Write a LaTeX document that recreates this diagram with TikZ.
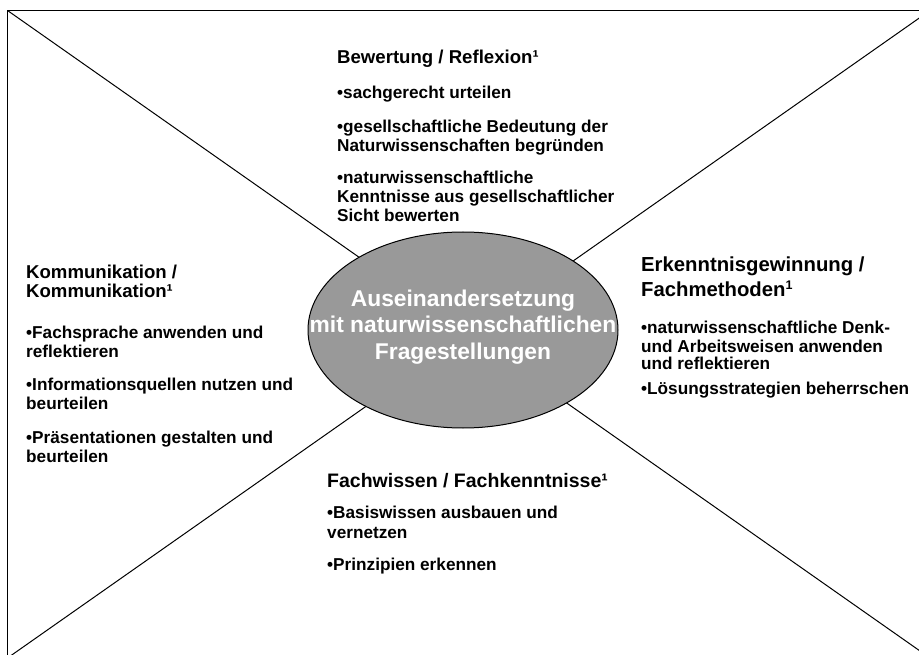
\documentclass[tikz,border=0pt]{standalone}
\usepackage{fontspec}
\setmainfont{Liberation Sans}
\usetikzlibrary{shapes.geometric}
\definecolor{ellgray}{HTML}{999999}
\tikzset{
  framestyle/.style={line width=1.4pt, black},
  diagstyle/.style={line width=1.0pt, black},
  core/.style={ellipse, draw=black, line width=1.0pt, fill=ellgray, inner sep=0pt,
               minimum width=310pt, minimum height=196pt},
  coretxt/.style={align=center, text=white, inner sep=0pt,
               font=\bfseries\fontsize{22.8}{26.5}\selectfont},
  body/.style={anchor=base west, inner sep=0pt, font=\bfseries\fontsize{17.2}{19}\selectfont},
  ttlA/.style={anchor=base west, inner sep=0pt, font=\bfseries\fontsize{18.6}{18.8}\selectfont},
  ttlB/.style={anchor=base west, inner sep=0pt, font=\bfseries\fontsize{19.5}{20}\selectfont},
  ttlC/.style={anchor=base west, inner sep=0pt, font=\bfseries\fontsize{20.3}{21}\selectfont},
}
\begin{document}
\begin{tikzpicture}[x=1pt,y=-1pt]
\useasboundingbox (0,0) rectangle (919,655);
\begin{scope}
  \clip (0,0) rectangle (919,655);
  \coordinate (tl) at (7.5,10.5);
  \coordinate (tr) at (930,10.5);
  \coordinate (bl) at (7.5,658);
  \coordinate (br) at (930,658);
  \draw[framestyle] (tl) -- (tr);
  \draw[framestyle] (tl) -- (bl);
  \draw[diagstyle] (tl) -- (br);
  \draw[diagstyle] (tr) -- (bl);
\end{scope}

\node[core] (ell) at (463,330) {};
\node[coretxt] (elltext) at (463,327) {Auseinandersetzung\\mit naturwissenschaftlichen\\Fragestellungen};

% top block
\node[ttlA] (t0) at (337,64) {Bewertung / Reflexion¹};
\node[body] (t1) at (337,99) {•sachgerecht urteilen};
\node[body] (t2) at (337,133) {•gesellschaftliche Bedeutung der};
\node[body] (t3) at (337,152) {Naturwissenschaften begründen};
\node[body] (t4) at (337,184) {•naturwissenschaftliche};
\node[body] (t5) at (337,203) {Kenntnisse aus gesellschaftlicher};
\node[body] (t6) at (337,222) {Sicht bewerten};

% left block
\node[ttlA, anchor=north west, align=left] (l0) at (26,265) {Kommunikation /\\Kommunikation¹};
\node[body] (l2) at (26,338) {•Fachsprache anwenden und};
\node[body] (l3) at (26,357) {reflektieren};
\node[body] (l4) at (26,390) {•Informationsquellen nutzen und};
\node[body] (l5) at (26,409) {beurteilen};
\node[body] (l6) at (26,443) {•Präsentationen gestalten und};
\node[body] (l7) at (26,462) {beurteilen};

% right block
\node[ttlC] (r0) at (641,272) {Erkenntnisgewinnung /};
\node[ttlC] (r1) at (641,297) {Fachmethoden\raisebox{7.5pt}{\fontsize{12.5}{13}\selectfont 1}};
\node[body] (r2) at (641,334) {•naturwissenschaftliche Denk-};
\node[body] (r3) at (641,352.5) {und Arbeitsweisen anwenden};
\node[body] (r4) at (641,370) {und reflektieren};
\node[body] (r5) at (641,394) {•Lösungsstrategien beherrschen};

% bottom block
\node[ttlB] (b0) at (327,487) {Fachwissen / Fachkenntnisse¹};
\node[body] (b1) at (327,518) {•Basiswissen ausbauen und};
\node[body] (b2) at (327,538) {vernetzen};
\node[body] (b3) at (327,570) {•Prinzipien erkennen};
\end{tikzpicture}
\end{document}
